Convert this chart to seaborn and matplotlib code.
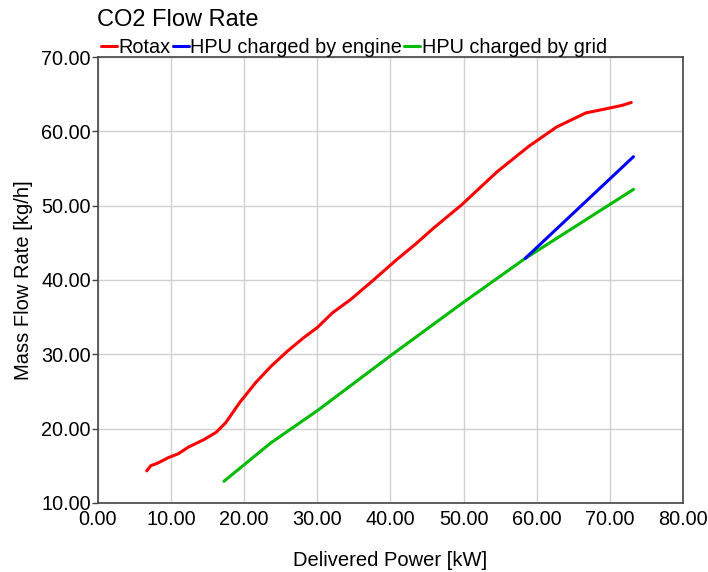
import pandas as pd
import matplotlib.pyplot as plt
import seaborn as sns

sns.set_theme(style="whitegrid")
plt.rcParams["font.family"] = ["Liberation Sans", "DejaVu Sans"]
plt.rcParams["text.color"] = "black"
plt.rcParams["axes.labelcolor"] = "black"

# Rotax curve
rotax_kw = [6.7, 7.25, 8.1, 9.7, 11.0, 12.4, 14.5, 16.2, 17.5, 19.4, 21.6, 23.7,
            25.9, 28.1, 30.0, 32.1, 34.6, 37.8, 40.8, 43.5, 45.9, 49.7, 54.6,
            58.9, 62.7, 66.7, 69.2, 71.6, 72.9]
rotax_kgh = [14.3, 15.0, 15.3, 16.1, 16.6, 17.5, 18.5, 19.5, 20.8, 23.5, 26.2, 28.4,
             30.4, 32.2, 33.6, 35.6, 37.4, 40.1, 42.7, 44.9, 47.0, 50.1, 54.6,
             58.0, 60.6, 62.5, 63.0, 63.5, 63.9]

# HPU charged by engine
engine_kw = [58.4, 73.2]
engine_kgh = [42.9, 56.6]

# HPU charged by grid
grid_kw = [17.25, 23.7, 30.0, 40.0, 49.7, 58.4, 73.2]
grid_kgh = [12.9, 18.1, 22.4, 29.8, 36.8, 42.9, 52.2]

series = ["Rotax", "HPU charged by engine", "HPU charged by grid"]
colors = ["#ff0000", "#0000ff", "#00bb00"]

df = pd.concat([
    pd.DataFrame({"kw": rotax_kw, "kgh": rotax_kgh, "series": series[0]}),
    pd.DataFrame({"kw": engine_kw, "kgh": engine_kgh, "series": series[1]}),
    pd.DataFrame({"kw": grid_kw, "kgh": grid_kgh, "series": series[2]}),
], ignore_index=True)

fig = plt.figure(figsize=(7.08, 5.72), dpi=100)
ax = fig.add_axes([0.138, 0.121, 0.827, 0.779])

# grid line first so the engine line sits on top where they meet
for name, col in zip([series[0], series[2], series[1]], [colors[0], colors[2], colors[1]]):
    sub = df[df["series"] == name]
    sns.lineplot(data=sub, x="kw", y="kgh", color=col, lw=2.2, sort=False,
                 ax=ax, label=name)

ax.set_xlim(0, 80)
ax.set_ylim(10, 70)
ax.set_xticks(range(0, 81, 10))
ax.set_yticks(range(10, 71, 10))
ax.xaxis.set_major_formatter(plt.FuncFormatter(lambda v, _: f"{v:.2f}"))
ax.yaxis.set_major_formatter(plt.FuncFormatter(lambda v, _: f"{v:.2f}"))
ax.tick_params(labelsize=14.3, labelcolor="black", color="#444444", length=4,
               width=1, direction="out", pad=1, left=True, bottom=False)
ax.grid(True, color="#d0d0d0", lw=1)
for s in ax.spines.values():
    s.set_color("#444444")
    s.set_linewidth(1.2)

ax.set_xlabel("Delivered Power [kW]", fontsize=14.5, labelpad=16)
ax.set_ylabel("Mass Flow Rate [kg/h]", fontsize=14.5, labelpad=6)

handles, labels = ax.get_legend_handles_labels()
order = [labels.index(n) for n in series]
ax.legend([handles[i] for i in order], [labels[i] for i in order],
          loc="lower left", bbox_to_anchor=(0.005, 1.0), ncol=3, frameon=False,
          fontsize=14.3, handlelength=0.8, handletextpad=0.1, columnspacing=0.1,
          borderaxespad=0, borderpad=0)
fig.text(0.137, 0.955, "CO2 Flow Rate", fontsize=17, ha="left", va="baseline")

plt.savefig("out.png", dpi=100)
